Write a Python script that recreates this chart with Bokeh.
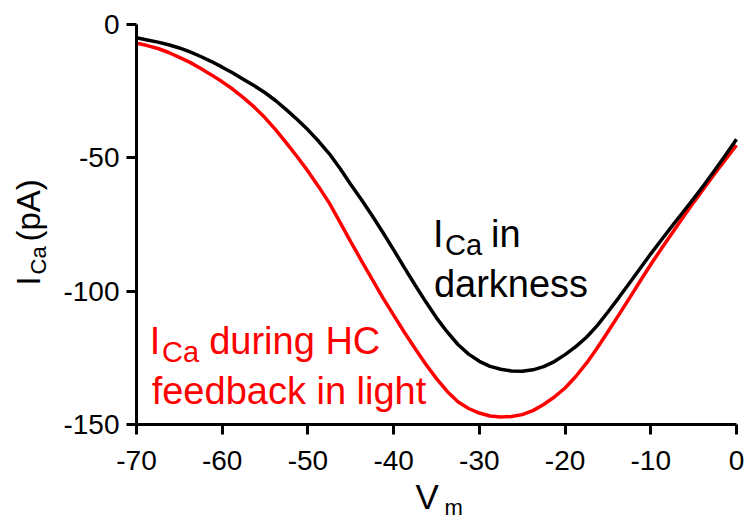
import math
from bokeh.plotting import figure
from bokeh.models import Range1d, FixedTicker, LinearAxis
from bokeh.core.properties import value
from bokeh.embed import file_html
from bokeh.resources import INLINE

# Data
vm = [-70, -68.75, -67.5, -66.25, -65, -63.75, -62.5, -61.25, -60, -58.75, -57.5,
      -56.25, -55, -53.75, -52.5, -51.25, -50, -48.75, -47.5, -46.25, -45, -43.75,
      -42.5, -41.25, -40, -38.75, -37.5, -36.25, -35, -33.75, -32.5, -31.25, -30,
      -28.75, -27.5, -26.25, -25, -23.75, -22.5, -21.25, -20, -18.75, -17.5, -16.25,
      -15, -13.75, -12.5, -11.25, -10, -8.75, -7.5, -6.25, -5, -3.75, -2.5, -1.25, 0]
ica_dark = [-5, -5.8, -6.6, -7.6, -8.8, -10.3, -12, -13.9, -16, -18.2, -20.6,
            -23, -25.6, -28.6, -32, -35.6, -39.5, -43.8, -48.5, -54, -60, -65.7,
            -71.7, -78, -84.5, -91.2, -97.7, -104, -110, -115.3, -120, -123.6, -126.3,
            -128.2, -129.3, -129.9, -130, -129.5, -128.3, -126.4, -123.8, -120.8, -117.3, -112.9,
            -107.8, -102.5, -97, -91.5, -86, -80.7, -75.5, -70.4, -65.3, -60, -54.5, -48.8, -43]
ica_light = [-7, -7.9, -9, -10.5, -12.3, -14.2, -16.5, -18.9, -21.5, -24.3, -27.5,
             -31, -35, -39.5, -44.5, -49.6, -55, -60.8, -67, -74.2, -81.5, -88.6,
             -95.6, -102.5, -109, -115.4, -121.5, -127.4, -132.8, -137.6, -141.5, -144, -145.7,
             -146.8, -147.2, -147, -146.3, -144.8, -142.5, -139.7, -136.3, -132, -127, -121.3,
             -115.2, -109, -102.7, -96.3, -90, -84, -78.2, -72.4, -66.7, -61.2, -55.8, -50.5, -45.3]
x_ticks = [-70, -60, -50, -40, -30, -20, -10, 0]
y_ticks = [0, -50, -100, -150]
x_tick_labels = ["-70", "-60", "-50", "-40", "-30", "-20", "-10", "0"]
y_tick_labels = ["0", "-50", "-100", "-150"]

FONT = "Liberation Sans"

# frame covers the whole canvas; axes are placed at fixed data locations
XPX = 600 / 70.0   # pixels per mV
YPX = 400 / 150.0  # pixels per pA
x0 = -70 - 136 / XPX
x1 = -70 + 610 / XPX
y1 = 24 / YPX
y0 = -(520 - 24) / YPX

p = figure(width=746, height=520, output_backend="svg", toolbar_location=None,
           x_range=Range1d(x0, x1), y_range=Range1d(y0, y1),
           x_axis_location=None, y_axis_location=None,
           min_border_left=0, min_border_right=0, min_border_top=0,
           min_border_bottom=0)
p.grid.visible = False
p.outline_line_color = None
p.background_fill_color = "white"
p.border_fill_color = "white"

xaxis = LinearAxis(fixed_location=-150, bounds=(-70, 0),
                   ticker=FixedTicker(ticks=x_ticks),
                   major_label_overrides={t: s for t, s in zip(x_ticks, x_tick_labels)})
yaxis = LinearAxis(fixed_location=-70, bounds=(-150, 0),
                   ticker=FixedTicker(ticks=y_ticks),
                   major_label_overrides={t: s for t, s in zip(y_ticks, y_tick_labels)})
for ax in (xaxis, yaxis):
    ax.axis_line_width = 3
    ax.axis_line_color = "black"
    ax.major_tick_line_width = 3
    ax.major_tick_line_color = "black"
    ax.major_tick_out = 10
    ax.major_tick_in = 0
    ax.minor_tick_out = 0
    ax.minor_tick_in = 0
    ax.major_label_text_font = FONT
    ax.major_label_text_font_size = "28px"
    ax.major_label_text_color = "black"
xaxis.major_label_standoff = 16
yaxis.major_label_standoff = 7
p.add_layout(xaxis, "below")
p.add_layout(yaxis, "left")

p.line(vm, ica_light, line_color="red", line_width=3.5)
p.line(vm, ica_dark, line_color="black", line_width=3.5)

SHIFT = 0.3  # em; rendered baseline sits this much below the anchor

def lab(x, y, text, size_px, color="black", rotated=False):
    if rotated:
        x = x - SHIFT * size_px / XPX
        angle = math.pi / 2
    else:
        y = y + SHIFT * size_px / YPX
        angle = 0.0
    p.text(x=[x], y=[y], text=[text], text_font=value(FONT),
           text_font_size=value(f"{size_px}px"), text_color=color,
           text_baseline="alphabetic", text_align="left", angle=angle)

# annotation: I_Ca in darkness
lab(-35.4, -82.9, "I", 38)
lab(-34.0, -85.9, "Ca", 29)
lab(-28.64, -82.9, "in", 38)
lab(-35.3, -101.6, "darkness", 38)

# annotation: I_Ca during HC feedback in light
lab(-68.44, -123.0, "I", 38, "red")
lab(-67.03, -126.0, "Ca", 29, "red")
lab(-61.52, -123.0, "during HC", 38, "red")
lab(-68.23, -141.7, "feedback in light", 38, "red")

# y axis label: I_Ca (pA)
lab(-81.43, -97.9, "I", 33, rotated=True)
lab(-80.62, -93.75, "Ca", 22, rotated=True)
lab(-81.43, -81.4, "(pA)", 33, rotated=True)

# x axis label: V_m
lab(-37.45, -181.1, "V", 35)
lab(-34.07, -183.75, "m", 22)

open("out.html", "w").write(file_html(p, INLINE))
